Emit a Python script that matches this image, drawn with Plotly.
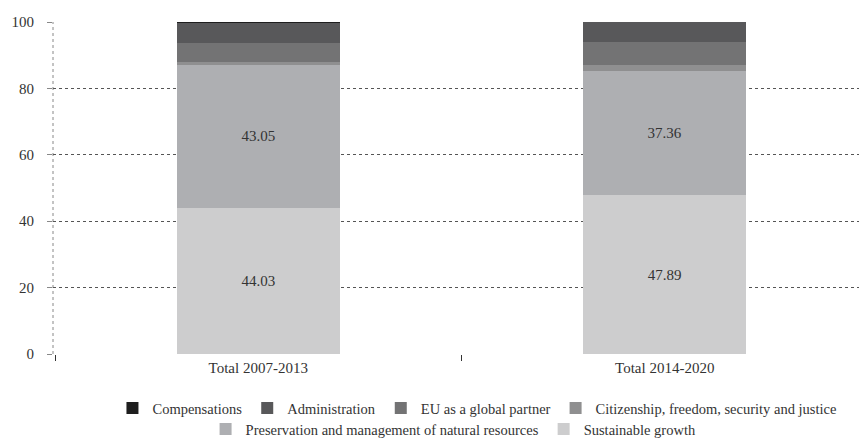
import plotly.graph_objects as go

categories = ["Total 2007-2013", "Total 2014-2020"]
series_names = [
    "Sustainable growth",
    "Preservation and management of natural resources",
    "Citizenship, freedom, security and justice",
    "EU as a global partner",
    "Administration",
    "Compensations",
]
sustainable = [44.03, 47.89]
preservation = [43.05, 37.36]
citizenship = [0.90, 1.95]
global_partner = [5.70, 6.65]
administration = [6.20, 6.12]
compensations = [0.12, 0.0]
labelled = {"Sustainable growth", "Preservation and management of natural resources"}
second_row = {"Sustainable growth", "Preservation and management of natural resources"}
y_ticks = [0, 20, 40, 60, 80, 100]

values = [sustainable, preservation, citizenship, global_partner, administration, compensations]
colors = ["#cdcdce", "#aeafb2", "#8f8f90", "#737374", "#58585a", "#1e1e1e"]

FONT = "Liberation Serif, Times New Roman, serif"
TXT = "#333333"
fig = go.Figure()
for name, vals, col in zip(series_names, values, colors):
    show_text = name in labelled
    fig.add_trace(go.Bar(
        x=categories, y=vals, name=name,
        marker=dict(color=col, line=dict(width=0)),
        width=0.4,
        text=[f"{v:.2f}" for v in vals] if show_text else None,
        textposition="inside" if show_text else "none",
        insidetextanchor="middle",
        textangle=0,
        textfont=dict(family=FONT, size=15, color=TXT),
        hoverinfo="skip",
        legend="legend2" if name in second_row else "legend",
    ))

legend_common = dict(
    orientation="h", traceorder="reversed",
    xanchor="center", yanchor="middle",
    font=dict(family=FONT, size=14.5, color=TXT),
    itemwidth=30, bgcolor="rgba(0,0,0,0)",
)

fig.update_layout(
    barmode="stack",
    width=859, height=438,
    margin=dict(l=53, r=0, t=22, b=84, autoexpand=False),
    paper_bgcolor="white", plot_bgcolor="white",
    font=dict(family=FONT, size=15, color=TXT),
    showlegend=True,
    legend=dict(x=0.526, y=-0.163, **legend_common),
    legend2=dict(x=0.497, y=-0.226, **legend_common),
    xaxis=dict(
        type="category", range=[-0.505, 1.478],
        showgrid=False, zeroline=False, showline=False,
        ticks="outside", tickson="boundaries", ticklen=6, tickcolor=TXT,
        ticklabelstandoff=3,
        tickfont=dict(family=FONT, size=15, color=TXT),
    ),
    yaxis=dict(
        range=[0, 100], tickvals=y_ticks,
        showgrid=True, gridcolor="#555555", griddash="dot", gridwidth=1,
        zeroline=False, showline=False,
        ticks="outside", ticklen=5, tickcolor="#888888",
        ticklabelstandoff=10,
        tickfont=dict(family=FONT, size=15, color=TXT),
    ),
    shapes=[dict(type="line", xref="paper", yref="paper", x0=0, x1=0, y0=0, y1=1,
                 line=dict(color="#888888", width=1, dash="dot"), layer="below")],
)
fig.write_html("out.html", config={"displayModeBar": False},
               post_script="document.body.style.margin='0';")
